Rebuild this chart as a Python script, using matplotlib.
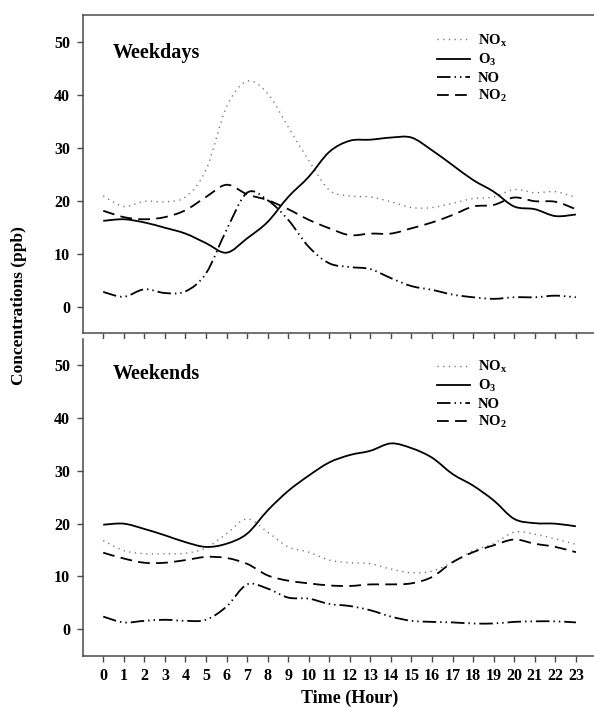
"""Diurnal cycles of NOx, O3, NO and NO2 for weekdays and weekends,
two stacked panels sharing the hour axis."""
import numpy as np
import matplotlib
matplotlib.use("Agg")
import matplotlib.pyplot as plt
from matplotlib.path import Path
from matplotlib.patches import PathPatch
from matplotlib.lines import Line2D

HOURS = list(range(24))

# weekday hourly means (ppb)
WD_NOX = [20.9, 18.9, 19.9, 19.8, 20.7, 25.8, 37.7, 42.5, 40.2, 33.9, 27.6, 22.0,
          20.9, 20.7, 19.8, 18.7, 18.7, 19.5, 20.4, 20.7, 22.1, 21.5, 21.7, 20.6]
WD_O3 = [16.2, 16.5, 15.9, 14.9, 13.8, 12.0, 10.2, 12.9, 16.0, 20.7, 24.5, 29.2,
         31.3, 31.5, 31.9, 31.9, 29.5, 26.7, 23.9, 21.7, 18.9, 18.4, 17.1, 17.4]
WD_NO = [2.8, 1.9, 3.3, 2.6, 2.9, 6.3, 14.5, 21.5, 20.1, 16.4, 11.3, 8.2,
         7.5, 7.1, 5.4, 3.9, 3.2, 2.3, 1.8, 1.5, 1.8, 1.8, 2.1, 1.8]
WD_NO2 = [18.1, 16.9, 16.5, 16.9, 18.2, 20.7, 23.0, 21.2, 20.1, 18.4, 16.4, 14.8,
          13.5, 13.8, 13.8, 14.8, 15.9, 17.3, 18.9, 19.2, 20.6, 19.9, 19.8, 18.4]

# weekend hourly means (ppb)
WE_NOX = [16.8, 14.9, 14.3, 14.3, 14.4, 15.4, 18.1, 20.9, 18.4, 15.6, 14.6, 13.1,
          12.6, 12.4, 11.4, 10.7, 11.0, 12.7, 14.9, 16.2, 18.4, 18.0, 17.1, 16.1]
WE_O3 = [19.8, 20.0, 19.0, 17.8, 16.5, 15.6, 16.2, 18.1, 22.5, 26.2, 29.1, 31.6,
         33.0, 33.8, 35.2, 34.3, 32.5, 29.4, 27.2, 24.4, 20.9, 20.1, 20.0, 19.5]
WE_NO = [2.4, 1.3, 1.6, 1.8, 1.6, 1.8, 4.3, 8.5, 7.7, 6.0, 5.8, 4.8,
         4.4, 3.6, 2.4, 1.6, 1.4, 1.3, 1.1, 1.1, 1.4, 1.5, 1.5, 1.3]
WE_NO2 = [14.5, 13.4, 12.6, 12.6, 13.1, 13.7, 13.5, 12.4, 10.2, 9.2, 8.7, 8.3,
          8.2, 8.5, 8.5, 8.7, 9.9, 12.7, 14.6, 15.9, 17.0, 16.2, 15.6, 14.6]

SPECIES = ["NOx", "O3", "NO", "NO2"]
LABELS = [r"NO$_{x}$", r"O$_{3}$", "NO", r"NO$_{2}$"]
STYLES = {
    "NOx": dict(color="#707070", lw=1.0, ls=(0, (0.9, 3.2))),
    "O3": dict(color="black", lw=1.3, ls="-"),
    "NO": dict(color="black", lw=1.3, ls=(0, (7.5, 2.2, 0.8, 2.2, 0.8, 2.2))),
    "NO2": dict(color="black", lw=1.3, ls=(0, (6.5, 3.5))),
}

plt.rcParams.update({
    "font.family": "Liberation Serif", "font.weight": "bold",
    "mathtext.fontset": "custom", "mathtext.rm": "Liberation Serif:bold",
    "mathtext.it": "Liberation Serif:bold", "mathtext.bf": "Liberation Serif:bold",
    "mathtext.default": "rm",
})
SPINE = "#4a4a4a"


def smooth_path(x, y):
    # Catmull-Rom through the hourly points, written as cubic Bezier segments
    p = np.column_stack([x, y]).astype(float)
    ext = np.vstack([p[0], p, p[-1]])
    verts, codes = [p[0]], [Path.MOVETO]
    for i in range(len(p) - 1):
        a, b, c, d = ext[i], ext[i + 1], ext[i + 2], ext[i + 3]
        verts += [b + (c - a) / 6, c - (d - b) / 6, c]
        codes += [Path.CURVE4] * 3
    return Path(verts, codes)


def draw_panel(ax, series, title, title_y, legend_y):
    for name, vals in zip(SPECIES, series):
        st = STYLES[name]
        ax.add_patch(PathPatch(smooth_path(HOURS, vals), fill=False, edgecolor=st["color"],
                               linewidth=st["lw"], linestyle=st["ls"], capstyle="butt",
                               joinstyle="round"))
    ax.set_xlim(-1, 25)
    ax.set_ylim(-5, 55)
    ax.set_yticks(range(0, 51, 10))
    ax.set_xticks(HOURS)
    ax.tick_params(direction="out", length=4, width=1.0, color=SPINE, labelsize=11.5, pad=5)
    for s in ax.spines.values():
        s.set_color(SPINE); s.set_linewidth(1.1)
    ax.spines["right"].set_visible(False)
    ax.text(0.056, title_y, title, transform=ax.transAxes, fontsize=14.5, fontweight="bold",
            ha="left", va="center")
    handles = [Line2D([], [], color=STYLES[n]["color"], lw=STYLES[n]["lw"], ls=STYLES[n]["ls"])
               for n in SPECIES]
    ax.legend(handles, LABELS, loc="upper left", bbox_to_anchor=(0.663, legend_y),
              frameon=False, fontsize=10.5, handlelength=2.3, handletextpad=0.5,
              labelspacing=0.23, borderpad=0, borderaxespad=0)


fig = plt.figure(figsize=(5.94, 7.08), dpi=100)
ax_top = fig.add_axes([0.1392, 0.5292, 0.8995, 0.4496])
ax_bot = fig.add_axes([0.1392, 0.0739, 0.8995, 0.4475])

draw_panel(ax_top, [WD_NOX, WD_O3, WD_NO, WD_NO2], "Weekdays", 0.88, 0.945)
draw_panel(ax_bot, [WE_NOX, WE_O3, WE_NO, WE_NO2], "Weekends", 0.89, 0.937)

ax_top.tick_params(axis="x", labelbottom=False)
ax_bot.spines["top"].set_visible(False)
ax_bot.set_xlabel("Time (Hour)", fontsize=13, fontweight="bold", labelpad=4)

fig.text(0.032, 0.568, "Concentrations (ppb)", rotation=90, ha="center", va="center",
         fontsize=12.5, fontweight="bold")

fig.savefig("out.png", dpi=100)
